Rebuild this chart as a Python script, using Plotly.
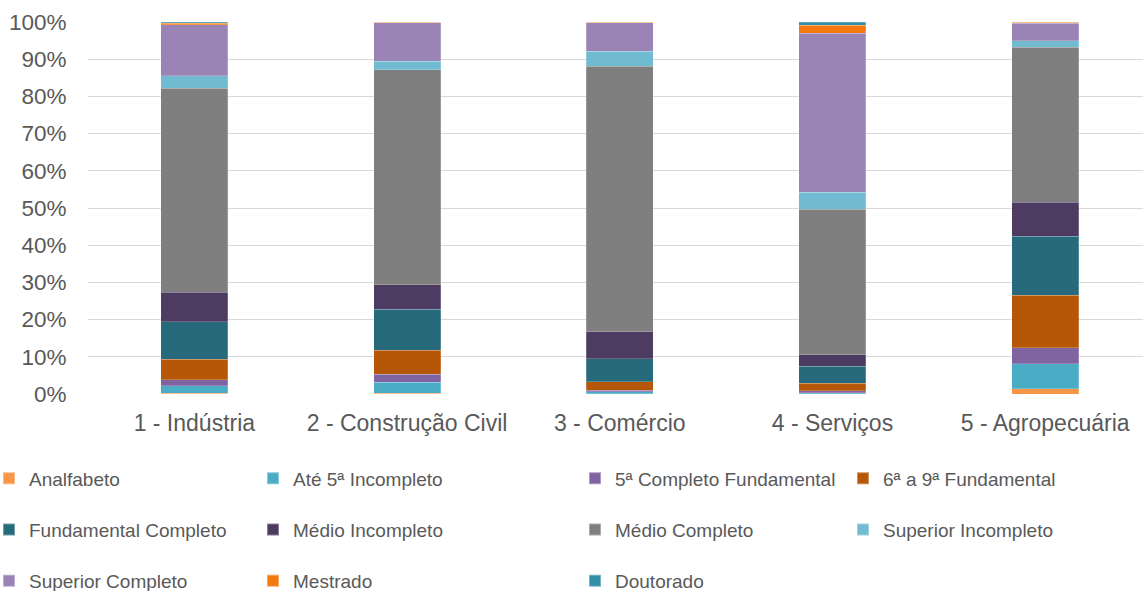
import plotly.graph_objects as go

categories = ["1 - Indústria", "2 - Construção Civil", "3 - Comércio", "4 - Serviços", "5 - Agropecuária"]

analfabeto = [0.2, 0.2, 0.1, 0.1, 1.4]
ate_5_incompleto = [2.0, 2.9, 0.5, 0.3, 6.8]
quinta_completo = [1.6, 2.2, 0.45, 0.45, 4.3]
sexta_nona = [5.6, 6.4, 2.3, 2.1, 14.0]
fundamental_completo = [10.0, 11.1, 6.1, 4.5, 15.9]
medio_incompleto = [7.9, 6.6, 7.3, 3.1, 9.1]
medio_completo = [54.9, 57.8, 71.35, 39.15, 41.7]
superior_incompleto = [3.4, 2.2, 4.0, 4.6, 1.8]
superior_completo = [13.7, 10.4, 7.7, 42.7, 4.7]
mestrado = [0.4, 0.1, 0.1, 2.1, 0.2]
doutorado = [0.3, 0.1, 0.1, 0.9, 0.1]

series = [
    ("Analfabeto", analfabeto, "#F79646", "legend"),
    ("Até 5ª Incompleto", ate_5_incompleto, "#4BACC6", "legend2"),
    ("5ª Completo Fundamental", quinta_completo, "#8064A2", "legend3"),
    ("6ª a 9ª Fundamental", sexta_nona, "#B65708", "legend4"),
    ("Fundamental Completo", fundamental_completo, "#276A7C", "legend"),
    ("Médio Incompleto", medio_incompleto, "#4D3B62", "legend2"),
    ("Médio Completo", medio_completo, "#7F7F7F", "legend3"),
    ("Superior Incompleto", superior_incompleto, "#70BBD0", "legend4"),
    ("Superior Completo", superior_completo, "#9A83B5", "legend"),
    ("Mestrado", mestrado, "#F47A10", "legend2"),
    ("Doutorado", doutorado, "#3190A8", "legend3"),
]

FONT = "Liberation Sans"
TXT = "#595959"

fig = go.Figure()
for i, (name, vals, color, lg) in enumerate(series):
    fig.add_trace(go.Bar(
        x=categories, y=vals, name=name, legend=lg, legendgroup=f"g{i}",
        width=0.315,
        marker=dict(color=color, line=dict(color="rgba(255,255,255,0.35)", width=0.6)),
    ))

def pos(px):
    return (px - 88) / 1055.0

leg_common = dict(
    orientation="v", yanchor="top", xanchor="left",
    font=dict(family=FONT, size=19, color=TXT),
    bgcolor="rgba(0,0,0,0)", tracegroupgap=23.5, itemsizing="constant",
    traceorder="grouped",
)
legy = -0.176
fig.update_layout(
    barmode="stack", barnorm="percent",
    width=1143, height=591,
    margin=dict(l=88, r=0, t=22, b=197, autoexpand=False),
    paper_bgcolor="white", plot_bgcolor="white",
    font=dict(family=FONT, color=TXT),
    legend=dict(x=pos(-11), y=legy, **leg_common),
    legend2=dict(x=pos(253), y=legy, **leg_common),
    legend3=dict(x=pos(575), y=legy, **leg_common),
    legend4=dict(x=pos(843), y=legy, **leg_common),
    xaxis=dict(
        type="category", range=[-0.5, 4.46], showgrid=False, showline=False, zeroline=False,
        ticks="outside", ticklen=8, tickcolor="rgba(0,0,0,0)",
        tickfont=dict(family=FONT, size=23, color=TXT),
    ),
    yaxis=dict(
        range=[0, 100], dtick=10, ticksuffix="%", showgrid=True, gridcolor="#D9D9D9", gridwidth=1.3,
        zeroline=False, showline=False,
        ticks="outside", ticklen=16, tickcolor="rgba(0,0,0,0)",
        tickfont=dict(family=FONT, size=22.5, color=TXT),
    ),
)

fig.write_html("out.html")
